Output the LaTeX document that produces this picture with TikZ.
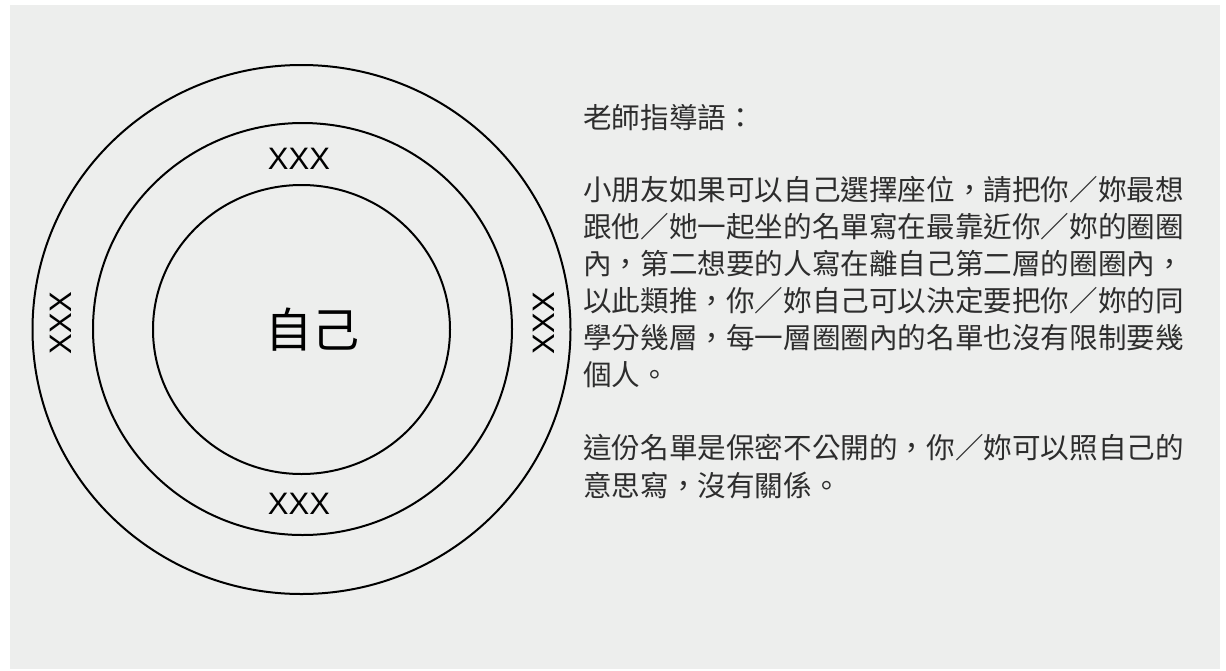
\documentclass[tikz,border=0pt]{standalone}
\usepackage{fontspec}
\setmainfont{Liberation Sans}
\newfontfamily\cjk{Noto Sans CJK TC}
\definecolor{bggray}{RGB}{237,238,237}
\definecolor{txtgray}{RGB}{45,45,45}
\begin{document}
\begin{tikzpicture}[x=1pt,y=-1pt,
  ring/.style={line width=2pt, draw=black},
  xlabel/.style={inner sep=0pt, font=\fontsize{31}{31}\selectfont},
  selflabel/.style={inner sep=0pt, font=\cjk\fontsize{47}{47}\selectfont},
  guide/.style={inner sep=0pt, anchor=west, text=txtgray, font=\cjk\fontsize{28.6}{37}\selectfont}]
\useasboundingbox (0,0) rectangle (1226,670);
\fill[white] (0,0) rectangle (1226,670);
\fill[bggray] (10,5) rectangle (1220,669);
% rings
\draw[ring] (301.5,329.5) ellipse [x radius=269, y radius=264.5];
\draw[ring] (302.5,329) ellipse [x radius=209.5, y radius=206];
\draw[ring] (301.5,329.5) ellipse [x radius=148.5, y radius=144.5];
% labels
\node[selflabel] (self) at (312,330) {自己};
\node[xlabel] (xtop) at (299,158.5) {XXX};
\node[xlabel] (xbot) at (299,503.5) {XXX};
\node[xlabel, rotate=90] (xleft) at (60.5,323) {XXX};
\node[xlabel, rotate=90] (xright) at (543.7,323) {XXX};
% guidance text
\node[guide] (t0) at (583,118) {老師指導語：};
\node[guide] (t1) at (583,190) {小朋友如果可以自己選擇座位，請把你／妳最想};
\node[guide] (t2) at (583,227) {跟他／她一起坐的名單寫在最靠近你／妳的圈圈};
\node[guide] (t3) at (583,264) {內，第二想要的人寫在離自己第二層的圈圈內，};
\node[guide] (t4) at (583,301) {以此類推，你／妳自己可以決定要把你／妳的同};
\node[guide] (t5) at (583,338) {學分幾層，每一層圈圈內的名單也沒有限制要幾};
\node[guide] (t6) at (583,375) {個人。};
\node[guide] (t7) at (583,448) {這份名單是保密不公開的，你／妳可以照自己的};
\node[guide] (t8) at (583,485) {意思寫，沒有關係。};
\end{tikzpicture}
\end{document}
